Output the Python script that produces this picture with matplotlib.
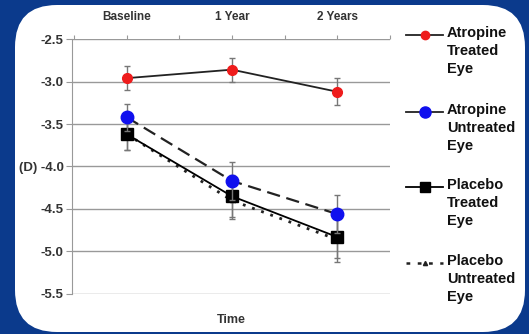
""" Atropine vs placebo refraction over time
"""
import matplotlib
matplotlib.use("Agg")
import matplotlib.pyplot as plt
from matplotlib.patches import FancyBboxPatch
from matplotlib.lines import Line2D

plt.rcParams["font.family"] = ["Liberation Sans", "DejaVu Sans"]
plt.rcParams["font.weight"] = "bold"

time_labels = ["Baseline", "1 Year", "2 Years"]
x_pos = [1, 2, 3]

atropine_treated = [-2.96, -2.86, -3.12]
atropine_treated_err = [0.14, 0.14, 0.16]
atropine_untreated = [-3.42, -4.17, -4.56]
atropine_untreated_err = [0.16, 0.22, 0.22]
placebo_treated = [-3.62, -4.35, -4.83]
placebo_treated_err = [0.18, 0.25, 0.25]
placebo_untreated = [-3.62, -4.40, -4.86]
placebo_untreated_err = [0.18, 0.22, 0.26]

legend_labels = ["Atropine\nTreated\nEye", "Atropine\nUntreated\nEye",
                 "Placebo\nTreated\nEye", "Placebo\nUntreated\nEye"]

fig = plt.figure(figsize=(5.29, 3.34), dpi=100)
fig.patch.set_facecolor("#0b3a8c")

panel = FancyBboxPatch((0.15, 0.02), 5.10, 3.27,
                       boxstyle="round,pad=0,rounding_size=0.42",
                       transform=fig.dpi_scale_trans,
                       facecolor="white", edgecolor="none", zorder=-5)
fig.patches.append(panel)

ax = fig.add_axes([0.136, 0.120, 0.601, 0.763])
ax.set_facecolor("white")

err_kw = dict(ecolor="#777777", elinewidth=1.0, capsize=2.5, capthick=1.0)

ax.errorbar(x_pos, placebo_untreated, yerr=placebo_untreated_err,
            color="#222222", linestyle=(0, (1, 2.5)), linewidth=2.0,
            marker="^", markersize=3, zorder=3, **err_kw)
ax.errorbar(x_pos, placebo_treated, yerr=placebo_treated_err,
            color="black", linestyle="-", linewidth=1.3,
            marker="s", markersize=9, zorder=4, **err_kw)
ax.errorbar(x_pos, atropine_untreated, yerr=atropine_untreated_err,
            color="#222222", linestyle=(0, (6, 3)), linewidth=1.6,
            marker="o", markersize=9, markerfacecolor="#1010ee",
            markeredgecolor="#1010ee", zorder=5, **err_kw)
ax.errorbar(x_pos, atropine_treated, yerr=atropine_treated_err,
            color="#222222", linestyle="-", linewidth=1.3,
            marker="o", markersize=7, markerfacecolor="#ee1c1c",
            markeredgecolor="#ee1c1c", zorder=5, **err_kw)

ax.set_xlim(0.48, 3.5)
ax.set_ylim(-5.5, -2.5)
ax.set_yticks([-2.5, -3.0, -3.5, -4.0, -4.5, -5.0, -5.5])
ax.set_yticklabels(["-2.5", "-3.0", "-3.5", "(D) -4.0", "-4.5", "-5.0", "-5.5"],
                   fontsize=9.5, fontweight="bold", color="#333333")
ax.grid(True, axis="y", color="#999999", linewidth=1.0)
ax.set_axisbelow(True)

ax.xaxis.tick_top()
ax.set_xticks([0.5, 1.0, 1.5, 2.0, 2.5, 3.0, 3.5])
ax.set_xticklabels([])
ax.tick_params(axis="x", direction="out", length=3, color="#999999", pad=2)
ax.tick_params(axis="y", length=4, color="#999999", pad=2)
for i, lab in enumerate(time_labels):
    ax.text(x_pos[i], 1.065, lab, transform=ax.get_xaxis_transform(),
            ha="center", va="bottom", fontsize=8.5, fontweight="bold",
            color="#333333")

for side in ["right", "bottom", "top"]:
    ax.spines[side].set_visible(False)
ax.spines["left"].set_color("#999999")

ax.text(0.5, -0.08, "Time", transform=ax.transAxes, ha="center", va="top",
        fontsize=9, fontweight="bold", color="#333333")

# legend drawn by hand: handle sits on the first text line
styles = [
    dict(color="#222222", linestyle="-", linewidth=1.3, marker="o",
         markersize=6, markerfacecolor="#ee1c1c", markeredgecolor="#ee1c1c"),
    dict(color="#222222", linestyle="-", linewidth=1.3, marker="o",
         markersize=8, markerfacecolor="#1010ee", markeredgecolor="#1010ee"),
    dict(color="black", linestyle="-", linewidth=1.3, marker="s",
         markersize=7),
    dict(color="#222222", linestyle=(0, (1.5, 3)), linewidth=1.8,
         marker="^", markersize=3),
]
top_px = [35, 112, 187, 263]
for lab, sty, y in zip(legend_labels, styles, top_px):
    yf = 1 - y / 334
    fig.add_artist(Line2D([406 / 529, 424.5 / 529, 443 / 529], [yf, yf, yf],
                          transform=fig.transFigure, markevery=[1], **sty))
    fig.text(447 / 529, yf + 0.026, lab, ha="left", va="top",
             fontsize=10.5, fontweight="bold", color="#111111",
             linespacing=1.35)

fig.savefig("out.png", dpi=100, facecolor=fig.get_facecolor())
